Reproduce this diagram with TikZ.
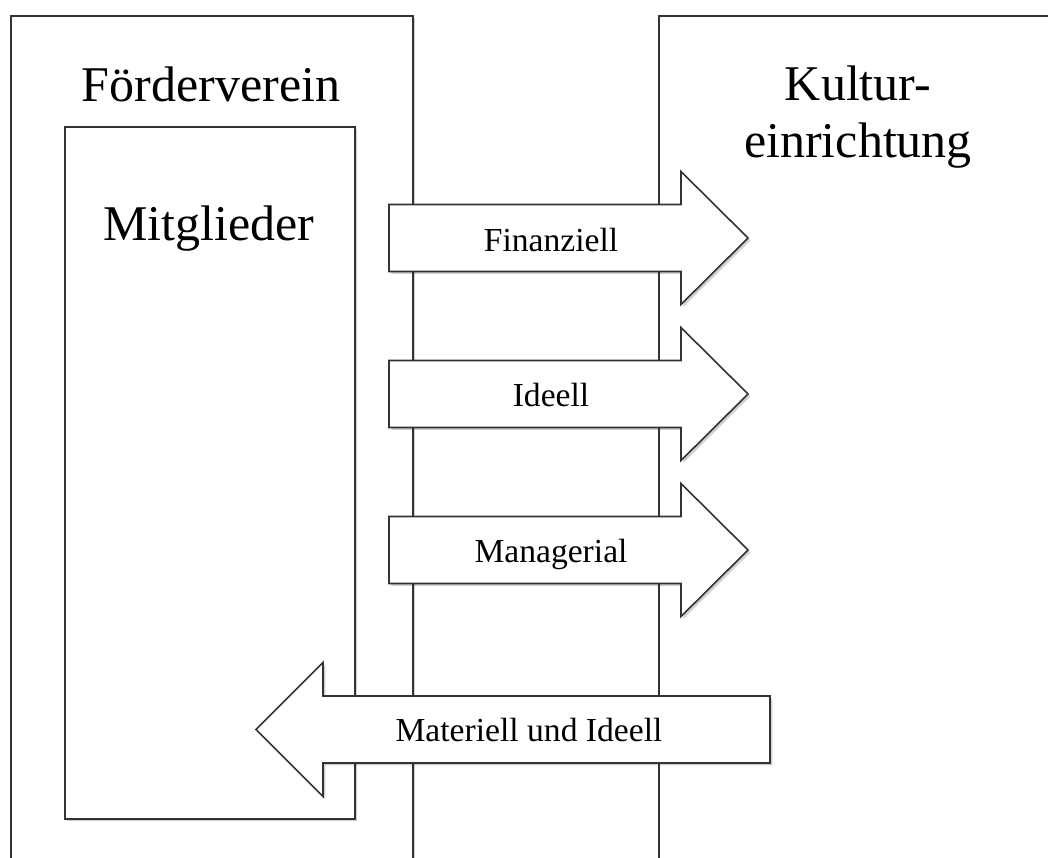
\documentclass[tikz,border=0pt]{standalone}
\usepackage{fontspec}
\setmainfont{Liberation Serif}
\usetikzlibrary{shadows}
\begin{document}
\begin{tikzpicture}[x=0.5pt,y=-0.5pt,
  shad/.style={drop shadow={shadow xshift=1.2pt,shadow yshift=-1.2pt,opacity=0.18,fill=black}},
  frame/.style={draw=black!80,line width=0.8pt,fill=white,shad},
  arrowbox/.style={draw=black!80,line width=0.8pt,fill=white,shad},
  bigtxt/.style={font=\fontsize{25}{28.5}\selectfont,inner sep=0pt,anchor=base,align=center},
  smalltxt/.style={font=\fontsize{16.8}{19}\selectfont,inner sep=0pt,anchor=base},
  rarrow/.pic={\draw[arrowbox] (0,-33.5)--(292,-33.5)--(292,-66.5)--(359,0)--(292,66.5)--(292,33.5)--(0,33.5)--cycle;},
  larrow/.pic={\draw[arrowbox] (0,0)--(67,-67)--(67,-33.5)--(514,-33.5)--(514,33.5)--(67,33.5)--(67,67)--cycle;}
]
\useasboundingbox (0,0) rectangle (1048,857);
\fill[white] (0,0) rectangle (1048,857);
\clip (0,0) rectangle (1048,857);
% outer boxes
\node[frame,anchor=north west,minimum width=402*0.5pt,minimum height=880*0.5pt,inner sep=0pt] (foerder) at (10,15) {};
\node[frame,anchor=north west,minimum width=290*0.5pt,minimum height=692*0.5pt,inner sep=0pt] (mitgl) at (64,126) {};
\node[frame,anchor=north west,minimum width=440*0.5pt,minimum height=880*0.5pt,inner sep=0pt] (kultur) at (658,15) {};
% titles
\node[bigtxt] (tfoerder) at (211,101) {Förderverein};
\node[bigtxt] (tmitgl) at (209,240) {Mitglieder};
\node[bigtxt] (tkultur) at (858,157) {Kultur-\\einrichtung};
% arrows
\pic (a1) at (389,238) {rarrow};
\pic (a2) at (389,394) {rarrow};
\pic (a3) at (389,550) {rarrow};
\pic (a4) at (256,729.5) {larrow};
\node[smalltxt] (tfin) at (551,251) {Finanziell};
\node[smalltxt] (tide) at (551,406) {Ideell};
\node[smalltxt] (tman) at (551,562) {Managerial};
\node[smalltxt] (tmat) at (529,741) {Materiell und Ideell};
\end{tikzpicture}
\end{document}
